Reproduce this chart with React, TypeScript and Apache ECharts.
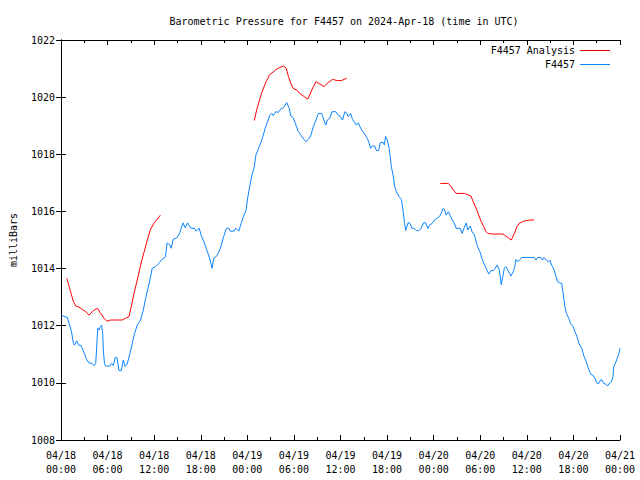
import React, { useEffect, useRef } from "react";
import * as echarts from "echarts";

const titleText = "Barometric Pressure for F4457 on 2024-Apr-18 (time in UTC)";
const yAxisName = "milliBars";
const dateLabels = ["04/18", "04/18", "04/18", "04/18", "04/19", "04/19", "04/19", "04/19", "04/20", "04/20", "04/20", "04/20", "04/21"];
const timeLabels = ["00:00", "06:00", "12:00", "18:00", "00:00", "06:00", "12:00", "18:00", "00:00", "06:00", "12:00", "18:00", "00:00"];

// hours since 2024-04-18 00:00 UTC
const obsHours = [
  0.0, 0.4, 0.8, 1.05, 1.35, 1.6, 1.75, 2.0, 2.3, 2.6, 3.0, 3.3, 3.6, 4.0, 4.26, 4.47, 4.6, 4.73, 4.9, 5.03,
  5.24, 5.37, 5.45, 5.6, 5.75, 6.3, 6.5, 6.74, 7.0, 7.2, 7.47, 7.77, 8.02, 8.24, 8.53, 8.88, 9.18, 9.48, 9.82, 10.25,
  10.6, 10.9, 11.2, 11.5, 11.75, 12.17, 12.6, 13.0, 13.45, 13.67, 14.0, 14.2, 14.44, 14.95, 15.3, 15.7, 16.0, 16.3, 16.75, 17.2,
  17.4, 17.8, 18.0, 18.4, 18.7, 19.0, 19.2, 19.45, 19.67, 20.0, 20.3, 20.6, 20.95, 21.3, 21.6, 21.8, 22.3, 22.5, 22.9, 23.2,
  23.5, 23.85, 24.0, 24.3, 24.6, 24.9, 25.1, 25.45, 25.74, 26.0, 26.3, 26.6, 26.9, 27.15, 27.35, 27.66, 28.0, 28.3, 28.65, 28.86,
  29.07, 29.4, 29.6, 29.9, 30.27, 30.57, 30.9, 31.3, 31.55, 31.86, 32.16, 32.5, 32.84, 33.15, 33.57, 33.87, 34.1, 34.3, 34.6, 34.9,
  35.4, 35.7, 36.0, 36.26, 36.56, 36.78, 37.0, 37.3, 37.55, 37.84, 38.06, 38.3, 38.6, 38.83, 39.13, 39.44, 39.7, 39.86, 40.1, 40.4,
  40.63, 40.9, 41.14, 41.5, 41.65, 41.8, 42.0, 42.26, 42.4, 42.55, 42.77, 42.98, 43.2, 43.54, 43.84, 44.05, 44.26, 44.4, 44.7, 44.9,
  45.2, 45.5, 45.76, 46.1, 46.4, 46.7, 46.96, 47.27, 47.47, 47.8, 48.1, 48.4, 48.75, 48.97, 49.2, 49.4, 49.6, 49.9, 50.1, 50.4,
  50.7, 50.9, 51.4, 51.67, 51.9, 52.2, 52.4, 52.7, 52.95, 53.25, 53.47, 53.7, 54.0, 54.2, 54.5, 54.75, 55.1, 55.4, 55.7, 55.93,
  56.16, 56.46, 56.63, 56.7, 56.9, 57.1, 57.3, 57.66, 57.96, 58.25, 58.44, 58.6, 58.86, 59.1, 59.37, 60.95, 61.17, 61.4, 61.8, 62.0,
  62.2, 62.5, 62.8, 62.97, 63.2, 63.5, 63.7, 63.95, 64.25, 64.5, 64.67, 64.9, 65.1, 65.4, 65.66, 65.95, 66.2, 66.5, 66.7, 67.07,
  67.37, 67.66, 67.9, 68.2, 68.5, 68.76, 69.06, 69.27, 69.5, 69.7, 69.9, 70.15, 70.4, 70.6, 70.9, 71.1, 71.2, 71.4, 71.65, 71.86,
  72.0,
];
const obsPressure = [
  1012.40, 1012.32, 1012.30, 1012.08, 1011.79, 1011.38, 1011.32, 1011.47, 1011.32, 1011.30, 1011.03, 1010.82, 1010.70, 1010.68, 1010.60, 1010.68, 1011.27, 1011.91, 1011.85, 1011.96,
  1012.02, 1011.73, 1011.15, 1010.68, 1010.59, 1010.59, 1010.68, 1010.61, 1010.89, 1010.89, 1010.43, 1010.43, 1010.80, 1010.57, 1010.66, 1011.03, 1011.38, 1011.73, 1012.02, 1012.20,
  1012.55, 1012.96, 1013.31, 1013.66, 1014.01, 1014.07, 1014.18, 1014.32, 1014.41, 1014.90, 1014.83, 1014.71, 1015.02, 1015.08, 1015.25, 1015.60, 1015.43, 1015.60, 1015.41, 1015.41,
  1015.31, 1015.41, 1015.21, 1014.94, 1014.71, 1014.48, 1014.30, 1014.01, 1014.36, 1014.42, 1014.56, 1014.77, 1015.12, 1015.41, 1015.41, 1015.31, 1015.31, 1015.41, 1015.31, 1015.58,
  1015.82, 1016.05, 1016.40, 1016.87, 1017.27, 1017.57, 1017.97, 1018.21, 1018.41, 1018.62, 1018.91, 1019.14, 1019.37, 1019.43, 1019.35, 1019.49, 1019.47, 1019.58, 1019.63, 1019.72,
  1019.81, 1019.61, 1019.34, 1019.29, 1019.02, 1018.79, 1018.67, 1018.52, 1018.44, 1018.52, 1018.64, 1018.97, 1019.20, 1019.43, 1019.43, 1019.20, 1019.02, 1019.20, 1019.26, 1019.49,
  1019.49, 1019.37, 1019.32, 1019.20, 1019.49, 1019.45, 1019.32, 1019.43, 1019.22, 1019.10, 1019.02, 1019.10, 1018.91, 1018.81, 1018.71, 1018.56, 1018.38, 1018.21, 1018.29, 1018.29,
  1018.13, 1018.13, 1018.41, 1018.41, 1018.33, 1018.62, 1018.52, 1018.21, 1017.92, 1017.57, 1017.27, 1016.87, 1016.69, 1016.52, 1016.42, 1016.05, 1015.58, 1015.33, 1015.60, 1015.60,
  1015.41, 1015.41, 1015.33, 1015.33, 1015.42, 1015.60, 1015.60, 1015.41, 1015.52, 1015.58, 1015.70, 1015.76, 1015.82, 1015.93, 1016.10, 1016.07, 1015.87, 1015.99, 1015.87, 1015.70,
  1015.56, 1015.41, 1015.41, 1015.23, 1015.41, 1015.60, 1015.35, 1015.49, 1015.29, 1015.17, 1014.94, 1014.74, 1014.56, 1014.36, 1014.16, 1014.01, 1013.81, 1013.93, 1013.93, 1014.01,
  1014.12, 1013.95, 1013.60, 1013.43, 1013.72, 1014.01, 1014.07, 1013.89, 1013.74, 1013.89, 1014.07, 1014.32, 1014.24, 1014.32, 1014.39, 1014.39, 1014.30, 1014.39, 1014.39, 1014.30,
  1014.39, 1014.30, 1014.24, 1014.30, 1014.12, 1013.97, 1013.77, 1013.54, 1013.50, 1013.48, 1013.13, 1012.66, 1012.43, 1012.26, 1012.06, 1011.97, 1011.79, 1011.59, 1011.38, 1011.21,
  1010.92, 1010.74, 1010.54, 1010.31, 1010.27, 1010.16, 1009.98, 1009.98, 1010.10, 1010.10, 1009.98, 1009.96, 1009.89, 1009.98, 1010.04, 1010.22, 1010.57, 1010.68, 1010.86, 1011.03,
  1011.21,
];

// Analysis segments
const analysis1Hours = [0.75, 1.05, 1.35, 1.6, 1.9, 2.33, 2.76, 3.2, 3.6, 4.17, 4.7, 5.1, 5.55, 5.9, 6.4, 7.9, 8.3, 8.75, 9.05, 9.4, 9.82, 10.25, 10.68, 11.1, 11.5, 11.96, 12.4, 12.8];
const analysis1Pressure = [1013.66, 1013.37, 1013.08, 1012.84, 1012.69, 1012.65, 1012.57, 1012.49, 1012.37, 1012.53, 1012.61, 1012.43, 1012.26, 1012.16, 1012.20, 1012.20, 1012.26, 1012.31, 1012.67, 1013.13, 1013.60, 1014.12, 1014.56, 1014.98, 1015.35, 1015.58, 1015.73, 1015.87];
const analysis2Hours = [24.9, 25.2, 25.57, 25.87, 26.16, 26.5, 26.85, 27.3, 27.7, 28.2, 28.7, 29.0, 29.3, 29.6, 29.9, 30.4, 30.8, 31.2, 31.8, 32.3, 32.84, 33.35, 33.87, 34.4, 34.98, 35.58, 36.1, 36.8];
const analysis2Pressure = [1019.18, 1019.55, 1019.90, 1020.16, 1020.37, 1020.58, 1020.78, 1020.87, 1020.97, 1021.04, 1021.09, 1021.01, 1020.72, 1020.48, 1020.31, 1020.24, 1020.12, 1020.04, 1019.93, 1020.25, 1020.54, 1020.46, 1020.37, 1020.51, 1020.62, 1020.58, 1020.58, 1020.66];
const analysis3Hours = [48.85, 49.9, 50.25, 50.55, 50.9, 51.97, 52.27, 52.8, 53.1, 53.47, 53.8, 54.1, 54.45, 54.75, 54.97, 55.6, 56.9, 57.3, 57.7, 58.0, 58.4, 58.73, 59.0, 59.46, 59.88, 60.5, 60.95];
const analysis3Pressure = [1016.98, 1016.98, 1016.87, 1016.75, 1016.63, 1016.63, 1016.60, 1016.54, 1016.34, 1016.11, 1015.87, 1015.66, 1015.47, 1015.29, 1015.23, 1015.21, 1015.21, 1015.14, 1015.06, 1015.00, 1015.23, 1015.47, 1015.58, 1015.64, 1015.68, 1015.70, 1015.70];

const ANALYSIS = "F4457 Analysis";
const OBS = "F4457";
const RED = "#ff0000";
const BLUE = "#0a84ff";
const FONT = "DejaVu Sans Mono";

const zip = (xs: number[], ys: number[]) => xs.map((x, i) => [x, ys[i]]);

export default function App() {
  const ref = useRef<HTMLDivElement>(null);
  useEffect(() => {
    if (!ref.current) return;
    document.body.style.margin = "0";
    const chart = echarts.init(ref.current, undefined, { renderer: "svg" });
    const txt = { fontFamily: FONT, fontSize: 10, color: "#000" };
    const lineSeries = (name: string, data: number[][], color: string) => ({
      name,
      type: "line",
      data,
      showSymbol: false,
      symbol: "none",
      lineStyle: { color, width: 1 },
      itemStyle: { color },
      xAxisIndex: 0,
      yAxisIndex: 0,
    });
    const xCommon = {
      type: "value",
      min: 0,
      max: 72,
      interval: 6,
      axisLine: { show: true, lineStyle: { color: "#000", width: 1 } },
      axisTick: { show: true, inside: true, length: 5, lineStyle: { color: "#000" } },
      minorTick: { show: true, splitNumber: 2, length: 3, lineStyle: { color: "#000" } },
      splitLine: { show: false },
      minorSplitLine: { show: false },
    };
    const yCommon = {
      type: "value",
      min: 1008,
      max: 1022,
      interval: 2,
      axisLine: { show: true, lineStyle: { color: "#000", width: 1 } },
      axisTick: { show: true, inside: true, length: 5, lineStyle: { color: "#000" } },
      splitLine: { show: false },
    };
    chart.setOption({
      animation: false,
      backgroundColor: "#fff",
      title: {
        text: titleText,
        left: 339,
        top: 11,
        textAlign: "center",
        textStyle: { ...txt, fontWeight: "normal" },
      },
      legend: {
        data: [ANALYSIS, OBS],
        orient: "vertical",
        right: 25,
        top: 40,
        align: "right",
        icon: "rect",
        itemWidth: 30,
        itemHeight: 1,
        itemGap: 3,
        textStyle: { ...txt, padding: [0, 0, 0, 0], lineHeight: 11 },
      },
      grid: { left: 58, right: 20, top: 40, bottom: 40, containLabel: false },
      xAxis: [
        {
          ...xCommon,
          position: "bottom",
          axisLabel: {
            ...txt,
            margin: 8,
            lineHeight: 14,
            formatter: (v: number) => {
              const i = Math.round(v / 6);
              return `${dateLabels[i]}\n${timeLabels[i]}`;
            },
          },
        },
        { ...xCommon, position: "top", axisLabel: { show: false } },
      ],
      yAxis: [
        {
          ...yCommon,
          position: "left",
          name: yAxisName,
          nameLocation: "middle",
          nameGap: 43,
          nameRotate: 90,
          nameTextStyle: { ...txt },
          axisLabel: { ...txt, margin: 6, formatter: (v: number) => String(v) },
        },
        { ...yCommon, position: "right", axisLabel: { show: false } },
      ],
      series: [
        lineSeries(ANALYSIS, zip(analysis1Hours, analysis1Pressure), RED),
        lineSeries(ANALYSIS, zip(analysis2Hours, analysis2Pressure), RED),
        lineSeries(ANALYSIS, zip(analysis3Hours, analysis3Pressure), RED),
        lineSeries(OBS, zip(obsHours, obsPressure), BLUE),
      ],
    });
    return () => chart.dispose();
  }, []);
  return <div ref={ref} style={{ width: 640, height: 480 }} />;
}
